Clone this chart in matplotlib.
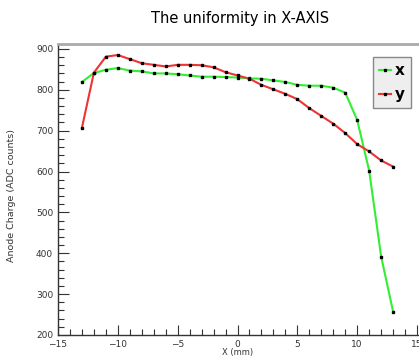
import matplotlib
matplotlib.use("Agg")
import matplotlib.pyplot as plt
from matplotlib.ticker import MultipleLocator

# positions along X (mm) and anode charge for the two scans
pos_mm = [-13, -12, -11, -10, -9, -8, -7, -6, -5, -4, -3, -2, -1, 0,
          1, 2, 3, 4, 5, 6, 7, 8, 9, 10, 11, 12, 13]
charge_x = [819, 841, 849, 853, 847, 845, 840, 840, 838, 835, 832, 832, 831, 830,
            828, 827, 823, 819, 812, 810, 810, 805, 793, 726, 602, 392, 257]
charge_y = [707, 842, 881, 885, 875, 865, 861, 857, 861, 861, 860, 855, 843, 835,
            827, 812, 801, 790, 777, 755, 736, 717, 694, 667, 649, 627, 612]

fig = plt.figure(figsize=(4.19, 3.6), dpi=100)
ax = fig.add_axes([58 / 419, 25 / 360, 371 / 419, 291 / 360])

ax.plot(pos_mm, charge_x, "-s", color="#33ee33", lw=1.5, ms=1.6,
        mfc="black", mec="black", label="x")
ax.plot(pos_mm, charge_y, "-s", color="#ee3333", lw=1.5, ms=1.6,
        mfc="black", mec="black", label="y")

ax.set_xlim(-15, 16)
ax.set_ylim(200, 912)
ax.xaxis.set_major_locator(MultipleLocator(5))
ax.xaxis.set_minor_locator(MultipleLocator(1))
ax.yaxis.set_major_locator(MultipleLocator(100))
ax.yaxis.set_minor_locator(MultipleLocator(20))
ax.tick_params(which="both", direction="in", colors="#333333", labelsize=6.5)
ax.tick_params(which="major", length=8, width=0.8)
ax.tick_params(which="minor", length=4, width=0.8)
ax.tick_params(axis="x", which="major", length=7)

for s in ("left", "bottom"):
    ax.spines[s].set_color("#333333")
    ax.spines[s].set_linewidth(1.0)
ax.spines["top"].set_color("#aaaaaa")
ax.spines["top"].set_linewidth(2.0)
ax.spines["right"].set_visible(False)

ax.set_xlabel("X (mm)", fontsize=6, color="#333333", labelpad=0)
ax.xaxis.set_label_coords(180 / 371, -0.045)
fig.text(12 / 419, 1 - 196 / 360, "Anode Charge (ADC counts)", rotation=90,
         fontsize=6.8, color="#333333", ha="center", va="center")
fig.text(240 / 419, 1 - 18 / 360, "The uniformity in X-AXIS",
         fontsize=10.5, ha="center", va="center")

leg = ax.legend(loc="upper left", bbox_to_anchor=(373 / 419, 1 - 57 / 360),
                bbox_transform=fig.transFigure, frameon=True, fancybox=False,
                facecolor="#eeeeee", edgecolor="#888888", handlelength=0.8,
                handletextpad=0.2, borderpad=0.4, labelspacing=0.6,
                borderaxespad=0, prop={"weight": "bold", "size": 11})
leg.get_frame().set_linewidth(1.0)
leg.get_frame().set_alpha(1)

fig.savefig("out.png", dpi=100)
